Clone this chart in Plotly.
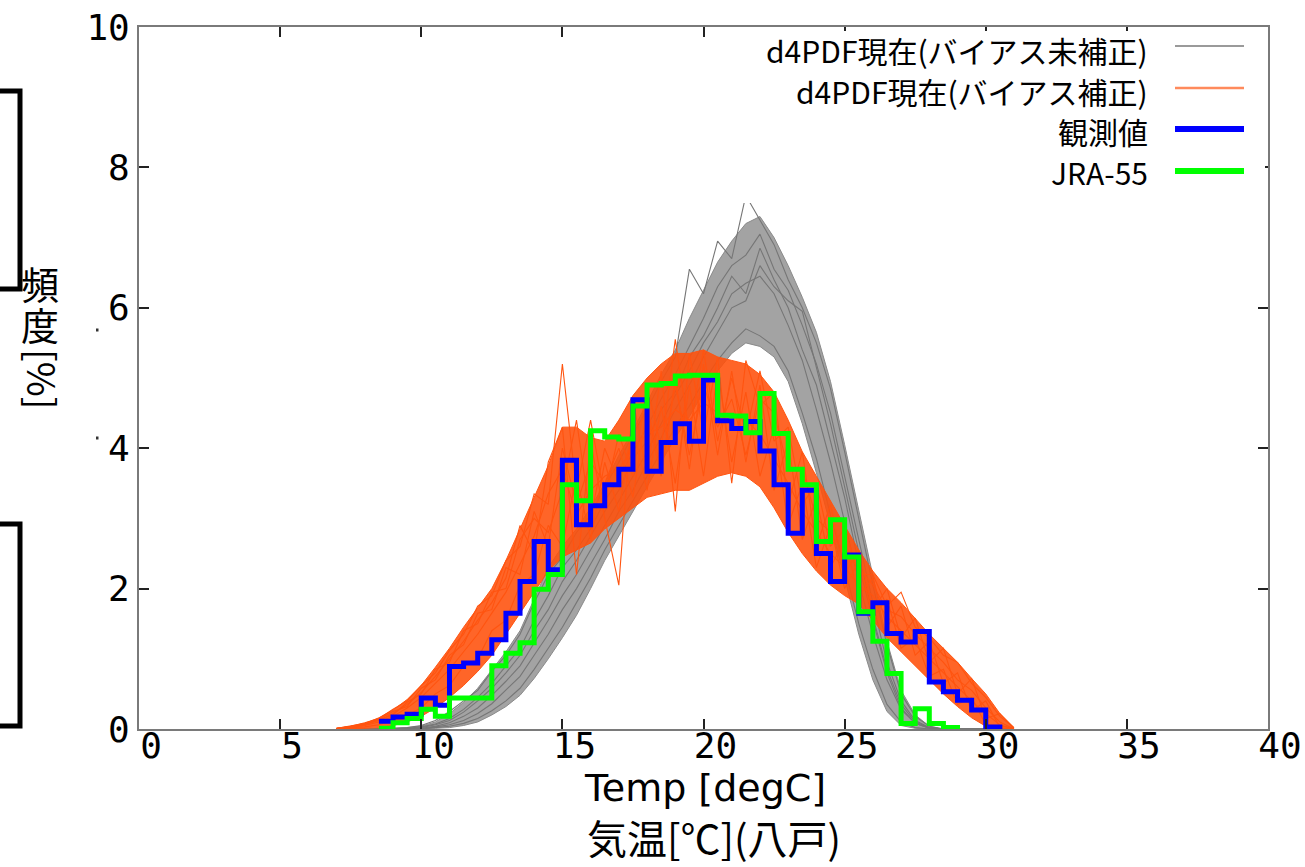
import plotly.graph_objects as go

# ---------------- data ----------------
# observed / JRA-55 histograms (step lines, 0.5 degC bins)
obs_temp = [8.5, 9.0, 9.5, 10.0, 10.5, 11.0, 11.5, 12.0, 12.5, 13.0, 13.5, 14.0, 14.5, 15.0, 15.5,
            16.0, 16.5, 17.0, 17.5, 18.0, 18.5, 19.0, 19.5, 20.0, 20.5, 21.0, 21.5, 22.0, 22.5, 23.0,
            23.5, 24.0, 24.5, 25.0, 25.5, 26.0, 26.5, 27.0, 27.5, 28.0, 28.5, 29.0, 29.5, 30.0, 30.5]
obs_freq = [0.11, 0.17, 0.21, 0.44, 0.34, 0.89, 0.94, 1.08, 1.27, 1.65, 2.10, 2.67, 2.27, 3.83, 2.91,
            3.18, 3.48, 3.70, 4.69, 3.67, 4.08, 4.35, 4.10, 4.97, 4.39, 4.28, 4.38, 3.96, 3.48, 2.79,
            3.40, 2.50, 2.10, 2.48, 1.65, 1.80, 1.36, 1.24, 1.39, 0.67, 0.53, 0.41, 0.27, 0.03, 0.0]

jra_temp = [8.5, 9.0, 9.5, 10.0, 10.5, 11.0, 11.5, 12.0, 12.5, 13.0, 13.5, 14.0, 14.5, 15.0, 15.5,
            16.0, 16.5, 17.0, 17.5, 18.0, 18.5, 19.0, 19.5, 20.0, 20.5, 21.0, 21.5, 22.0, 22.5, 23.0,
            23.5, 24.0, 24.5, 25.0, 25.5, 26.0, 26.5, 27.0, 27.5, 28.0, 28.5, 29.0]
jra_freq = [0.01, 0.09, 0.15, 0.28, 0.18, 0.44, 0.44, 0.44, 0.90, 1.08, 1.23, 1.99, 2.20, 3.48, 3.25,
            4.25, 4.16, 4.13, 4.60, 4.90, 4.92, 5.03, 5.04, 5.04, 4.47, 4.46, 4.22, 4.78, 4.21, 3.70,
            3.48, 2.67, 2.98, 2.45, 1.67, 1.25, 0.79, 0.08, 0.29, 0.08, 0.02, 0.0]

# d4PDF ensemble (0.5 degC grid): envelope and some individual members
ens_temp = [7.0, 7.5, 8.0, 8.5, 9.0, 9.5, 10.0, 10.5, 11.0, 11.5, 12.0, 12.5, 13.0, 13.5, 14.0, 14.5,
            15.0, 15.5, 16.0, 16.5, 17.0, 17.5, 18.0, 18.5, 19.0, 19.5, 20.0, 20.5, 21.0, 21.5, 22.0,
            22.5, 23.0, 23.5, 24.0, 24.5, 25.0, 25.5, 26.0, 26.5, 27.0, 27.5, 28.0, 28.5, 29.0, 29.5,
            30.0, 30.5, 31.0]

raw_lo = [0, 0, 0, 0, 0, 0, 0, 0.01, 0.02, 0.05, 0.10, 0.20, 0.32, 0.48, 0.72, 1.00,
          1.30, 1.62, 2.00, 2.40, 2.75, 3.10, 3.45, 3.80, 4.15, 4.45, 4.80, 5.10, 5.35, 5.50, 5.45,
          5.30, 4.95, 4.35, 3.65, 2.90, 2.15, 1.35, 0.70, 0.25, 0.05, 0.01, 0, 0, 0, 0, 0, 0, 0]
raw_hi = [0, 0, 0, 0, 0.01, 0.02, 0.04, 0.10, 0.22, 0.38, 0.58, 0.84, 1.10, 1.40, 1.85, 2.30,
          2.60, 2.85, 3.15, 3.50, 3.90, 4.25, 4.65, 5.05, 5.40, 5.85, 6.25, 6.65, 6.95, 7.20, 7.30,
          7.00, 6.60, 6.15, 5.65, 4.95, 4.05, 3.10, 2.15, 1.25, 0.55, 0.20, 0.04, 0, 0, 0, 0, 0, 0]
raw_members = [
    [0, 0, 0, 0, 0.01, 0.02, 0.05, 0.12, 0.25, 0.40, 0.55, 0.82, 1.05, 1.35, 1.80, 2.20, 2.45, 2.80,
     3.05, 3.45, 3.80, 4.20, 4.55, 4.95, 5.30, 6.55, 6.20, 6.95, 6.70, 7.60, 7.25, 6.90, 6.40, 6.00,
     5.50, 4.85, 3.95, 3.00, 2.05, 1.20, 0.50, 0.18, 0.04, 0, 0, 0, 0, 0, 0],
    [0, 0, 0, 0, 0, 0.01, 0.03, 0.07, 0.15, 0.28, 0.45, 0.65, 0.90, 1.15, 1.55, 1.90, 2.30, 2.55,
     2.85, 3.25, 3.55, 3.95, 4.30, 4.70, 5.05, 5.45, 5.85, 6.30, 6.60, 6.75, 7.05, 6.55, 6.25, 5.75,
     5.20, 4.50, 3.60, 2.70, 1.80, 0.95, 0.40, 0.12, 0.02, 0, 0, 0, 0, 0, 0],
    [0, 0, 0, 0, 0, 0, 0.01, 0.04, 0.09, 0.18, 0.30, 0.48, 0.68, 0.90, 1.22, 1.55, 1.90, 2.20,
     2.55, 2.90, 3.25, 3.60, 3.95, 4.35, 4.75, 5.10, 5.50, 5.80, 6.20, 6.35, 6.45, 6.20, 5.75, 5.25,
     4.55, 3.80, 2.95, 2.10, 1.35, 0.70, 0.28, 0.08, 0.01, 0, 0, 0, 0, 0, 0],
    [0, 0, 0, 0, 0, 0, 0, 0.02, 0.04, 0.08, 0.15, 0.26, 0.40, 0.58, 0.85, 1.15, 1.45, 1.80,
     2.15, 2.55, 2.90, 3.25, 3.60, 3.95, 4.30, 4.60, 4.95, 5.25, 5.50, 5.70, 5.60, 5.45, 5.10, 4.50,
     3.85, 3.05, 2.30, 1.50, 0.85, 0.35, 0.10, 0.02, 0, 0, 0, 0, 0, 0, 0],
    [0, 0, 0, 0, 0, 0, 0, 0.03, 0.06, 0.12, 0.22, 0.36, 0.55, 0.75, 1.05, 1.35, 1.70, 2.00,
     2.35, 2.70, 3.10, 3.40, 3.80, 4.15, 4.55, 4.90, 5.30, 5.65, 6.00, 6.10, 6.60, 6.30, 6.10, 5.95,
     5.15, 4.35, 3.45, 2.50, 1.60, 0.85, 0.35, 0.10, 0.02, 0, 0, 0, 0, 0, 0],
    [0, 0, 0, 0, 0, 0, 0.02, 0.06, 0.12, 0.24, 0.40, 0.58, 0.80, 1.05, 1.40, 1.70, 2.10, 2.40,
     2.75, 3.10, 3.40, 3.85, 4.10, 4.55, 4.80, 5.30, 5.60, 6.00, 6.45, 6.20, 6.85, 6.40, 6.00, 5.40,
     4.90, 4.10, 3.30, 2.35, 1.55, 0.80, 0.30, 0.08, 0.01, 0, 0, 0, 0, 0, 0],
]

cor_lo = [0, 0, 0.01, 0.02, 0.05, 0.10, 0.18, 0.30, 0.45, 0.62, 0.82, 1.05, 1.35, 1.65, 1.95, 2.25,
          2.45, 2.55, 2.65, 2.85, 3.00, 3.15, 3.30, 3.35, 3.40, 3.40, 3.50, 3.60, 3.65, 3.60, 3.45,
          3.15, 2.80, 2.50, 2.25, 2.05, 1.90, 1.78, 1.55, 1.30, 1.10, 0.90, 0.70, 0.50, 0.32, 0.16,
          0.04, 0, 0]
cor_hi = [0.01, 0.04, 0.08, 0.16, 0.27, 0.42, 0.62, 0.88, 1.15, 1.45, 1.72, 2.00, 2.40, 2.85, 3.30,
          3.75, 4.30, 4.30, 4.15, 4.10, 4.40, 4.75, 5.00, 5.20, 5.35, 5.35, 5.40, 5.30, 5.25, 5.20,
          5.05, 4.80, 4.40, 3.95, 3.60, 3.25, 2.90, 2.55, 2.25, 2.00, 1.80, 1.58, 1.35, 1.15, 0.95,
          0.72, 0.50, 0.22, 0.02]
cor_members = [
    [0.01, 0.04, 0.09, 0.15, 0.28, 0.40, 0.62, 0.80, 1.12, 1.35, 1.75, 1.90, 2.40, 2.60, 3.35, 3.20,
     5.20, 3.40, 4.40, 3.30, 4.20, 3.60, 4.90, 4.00, 5.55, 4.20, 5.40, 4.10, 5.00, 4.20, 5.10, 4.10,
     4.30, 3.20, 3.50, 2.60, 2.85, 2.20, 2.20, 1.75, 1.95, 1.45, 1.30, 1.05, 0.95, 0.65, 0.45, 0.18, 0.02],
    [0, 0.01, 0.03, 0.06, 0.12, 0.20, 0.30, 0.50, 0.62, 0.90, 1.00, 1.40, 1.55, 2.05, 2.20, 2.90,
     2.60, 3.60, 2.70, 3.80, 3.10, 4.30, 3.40, 4.60, 3.50, 4.90, 3.60, 5.10, 3.80, 4.80, 3.60, 4.30,
     2.90, 3.50, 2.30, 2.90, 2.00, 2.40, 1.60, 1.85, 1.15, 1.30, 0.75, 0.85, 0.35, 0.45, 0.06, 0.05, 0],
    [0, 0.02, 0.05, 0.10, 0.18, 0.30, 0.45, 0.65, 0.85, 1.10, 1.35, 1.65, 1.95, 2.35, 2.75, 3.35,
     3.70, 3.05, 3.40, 3.60, 3.70, 4.00, 4.20, 4.30, 4.55, 4.40, 4.65, 4.50, 4.45, 4.40, 4.20, 3.85,
     3.50, 3.10, 2.80, 2.50, 2.30, 2.05, 1.90, 1.60, 1.40, 1.20, 1.00, 0.80, 0.60, 0.40, 0.22, 0.06, 0],
    [0.01, 0.03, 0.07, 0.12, 0.22, 0.35, 0.52, 0.75, 1.00, 1.25, 1.55, 1.80, 2.15, 2.90, 2.50, 3.80,
     4.30, 2.20, 4.10, 3.00, 2.05, 4.70, 3.60, 5.10, 3.10, 5.35, 4.20, 5.30, 3.50, 5.25, 4.60, 4.80,
     3.20, 3.95, 2.60, 3.20, 2.20, 2.55, 1.70, 2.00, 1.30, 1.58, 0.95, 1.15, 0.50, 0.72, 0.15, 0.22, 0.01],
    [0, 0.02, 0.06, 0.13, 0.20, 0.38, 0.50, 0.85, 0.95, 1.40, 1.50, 1.95, 2.00, 2.70, 3.00, 2.80,
     3.40, 4.40, 3.00, 4.00, 3.50, 4.20, 4.50, 3.60, 5.00, 3.70, 5.20, 3.90, 5.10, 3.80, 4.90, 3.40,
     4.10, 2.70, 3.30, 2.30, 2.70, 1.90, 2.15, 1.45, 1.75, 1.05, 1.25, 0.65, 0.80, 0.25, 0.40, 0.02, 0],
    [0.01, 0.03, 0.08, 0.14, 0.25, 0.32, 0.58, 0.70, 1.05, 1.20, 1.65, 1.70, 2.30, 2.20, 3.10, 2.60,
     4.00, 3.20, 3.80, 3.50, 4.00, 3.30, 4.60, 3.70, 4.90, 3.90, 4.90, 4.30, 4.70, 3.90, 4.70, 4.50,
     3.70, 3.70, 3.00, 2.80, 2.50, 2.30, 2.05, 1.70, 1.60, 1.35, 1.15, 0.95, 0.70, 0.55, 0.30, 0.10, 0],
]

x_ticks = [0, 5, 10, 15, 20, 25, 30, 35, 40]
y_ticks = [0, 2, 4, 6, 8, 10]
legend_labels = ["d4PDF現在(バイアス未補正)", "d4PDF現在(バイアス補正)", "観測値", "JRA-55"]

# ---------------- styling ----------------
GREY = "#8a8a8a"
ORANGE = "#ff5410"
BLUE = "#0000ff"
GREEN = "#00ff00"
W, H = 1305, 867
L, R, T, B = 139, 1268, 27, 729   # plot box in pixels


def px(x):
    return (x - L) / (R - L)


def py(y):
    return (B - y) / (B - T)


fig = go.Figure()

# grey ensemble (uncorrected)
fig.add_trace(go.Scatter(x=ens_temp, y=raw_lo, mode="lines", line=dict(color=GREY, width=1),
                         hoverinfo="skip", showlegend=False))
fig.add_trace(go.Scatter(x=ens_temp, y=raw_hi, mode="lines", line=dict(color=GREY, width=1),
                         fill="tonexty", fillcolor="rgba(140,140,140,0.8)",
                         hoverinfo="skip", showlegend=False))
for m in raw_members:
    fig.add_trace(go.Scatter(x=ens_temp, y=m, mode="lines", line=dict(color="#767676", width=1.1),
                             hoverinfo="skip", showlegend=False))

# orange ensemble (bias corrected)
fig.add_trace(go.Scatter(x=ens_temp, y=cor_lo, mode="lines", line=dict(color=ORANGE, width=1),
                         hoverinfo="skip", showlegend=False))
fig.add_trace(go.Scatter(x=ens_temp, y=cor_hi, mode="lines", line=dict(color=ORANGE, width=1),
                         fill="tonexty", fillcolor="rgba(255,80,10,0.88)",
                         hoverinfo="skip", showlegend=False))
for m in cor_members:
    fig.add_trace(go.Scatter(x=ens_temp, y=m, mode="lines", line=dict(color=ORANGE, width=1.1),
                             hoverinfo="skip", showlegend=False))

# observations and JRA-55
fig.add_trace(go.Scatter(x=obs_temp, y=obs_freq, mode="lines", line=dict(color=BLUE, width=5, shape="hv"),
                         showlegend=False))
fig.add_trace(go.Scatter(x=jra_temp, y=jra_freq, mode="lines", line=dict(color=GREEN, width=5, shape="hv"),
                         showlegend=False))

shapes = []
# opaque key box (cuts the tops of the grey curves)
shapes.append(dict(type="rect", xref="paper", yref="paper", layer="above",
                   x0=px(723), x1=px(1265), y0=py(203), y1=py(31),
                   fillcolor="white", line=dict(width=0)))
# key samples
key_y = [46, 88, 129, 171]
key_style = [("#9a9a9a", 2), ("#ff8a5c", 2.5), (BLUE, 6), (GREEN, 6)]
for yy, (c, w) in zip(key_y, key_style):
    shapes.append(dict(type="line", xref="paper", yref="paper", layer="above",
                       x0=px(1175), x1=px(1244), y0=py(yy), y1=py(yy), line=dict(color=c, width=w)))
# black brackets on the left
for (ya, yb) in [(91, 289), (524, 726)]:
    shapes.append(dict(type="path", xref="paper", yref="paper",
                       path=f"M {px(-2)},{py(ya)} L {px(20)},{py(ya)} L {px(20)},{py(yb)} L {px(-2)},{py(yb)}",
                       line=dict(color="black", width=5)))
# tiny marks near the y tick labels
for yy in (330, 438):
    shapes.append(dict(type="rect", xref="paper", yref="paper",
                       x0=px(96), x1=px(98.5), y0=py(yy + 1.5), y1=py(yy - 1.5),
                       fillcolor="#333", line=dict(width=0)))

annotations = []
key_text_y = [50, 91, 131, 172]
for lab, yy in zip(legend_labels, key_text_y):
    annotations.append(dict(text=lab, xref="paper", yref="paper", x=px(1150), y=py(yy),
                            xanchor="right", yanchor="middle", showarrow=False,
                            font=dict(family="Noto Sans CJK JP", size=30, color="black")))
annotations.append(dict(text="Temp [degC]", xref="paper", yref="paper", x=px(705), y=py(788),
                        xanchor="center", yanchor="middle", showarrow=False,
                        font=dict(family="DejaVu Sans", size=38, color="black")))
annotations.append(dict(text="気温[℃](八戸)", xref="paper", yref="paper", x=px(714), y=py(837),
                        xanchor="center", yanchor="middle", showarrow=False,
                        font=dict(family="Noto Sans CJK JP", size=40, color="black")))
for txt, yy, ang, xx in [("頻", 282, 0, 40), ("度", 323, 0, 40), ("[%]", 379, 90, 43)]:
    annotations.append(dict(text=txt, xref="paper", yref="paper", x=px(xx), y=py(yy),
                            xanchor="center", yanchor="middle", showarrow=False, textangle=ang,
                            font=dict(family="Noto Sans CJK JP", size=38, color="black")))

axis_common = dict(showgrid=False, zeroline=False, showline=True, linecolor="#7a7a7a", linewidth=2,
                   mirror="ticks", ticks="inside", ticklen=10, tickwidth=1.5, tickcolor="#222",
                   automargin=False,
                   tickfont=dict(family="DejaVu Sans Mono", size=36, color="black"))

fig.update_layout(
    width=W, height=H, autosize=False,
    margin=dict(l=L, r=W - R, t=T, b=H - B, pad=0, autoexpand=False),
    paper_bgcolor="white", plot_bgcolor="white",
    showlegend=False,
    xaxis=dict(range=[0, 40], tickvals=x_ticks, ticktext=[str(v) for v in x_ticks],
               ticklabelshift=12, ticklabelstandoff=-16, **axis_common),
    yaxis=dict(range=[0, 10], tickvals=y_ticks, ticktext=[str(v) for v in y_ticks],
               ticklabelstandoff=0, **axis_common),
    shapes=shapes,
    annotations=annotations,
)

fig.write_html(
    "out.html",
    config={"displayModeBar": False, "responsive": False},
    post_script=("document.documentElement.style.margin='0px';"
                 "document.body.style.margin='0px';document.body.style.padding='0px';"
                 "document.documentElement.style.overflow='hidden';document.body.style.overflow='hidden';"),
)
